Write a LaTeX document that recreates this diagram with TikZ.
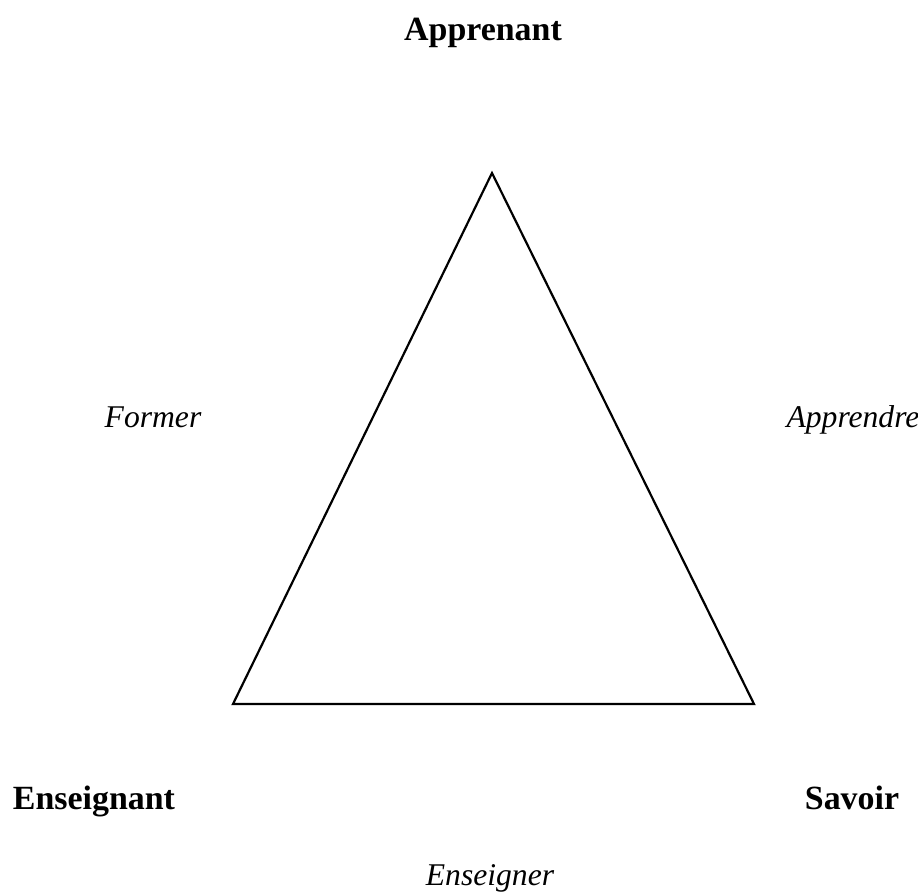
\documentclass[tikz,border=0pt]{standalone}
\usepackage{fontspec}
\setmainfont{Liberation Serif}
\usepackage{tikz}

\begin{document}
\begin{tikzpicture}[x=0.02cm,y=-0.02cm,
  pole/.style={anchor=base,inner sep=0pt,font=\fontsize{19.3}{23}\selectfont\bfseries},
  action/.style={anchor=base,inner sep=0pt,font=\fontsize{18}{21}\selectfont\itshape}]
\useasboundingbox (0,0) rectangle (918,893);
\coordinate (A) at (492,173);
\coordinate (E) at (233,704);
\coordinate (S) at (754,704);
\draw[line width=1.25pt,line join=miter] (A)--(S)--(E)--cycle;
\node[pole] (apprenant) at (483,40) {Apprenant};
\node[pole] (enseignant) at (94,809) {Enseignant};
\node[pole] (savoir) at (852,809) {Savoir};
\node[action] (former) at (153,427) {Former};
\node[action] (apprendre) at (853,427) {Apprendre};
\node[action] (enseigner) at (490,885) {Enseigner};
\end{tikzpicture}
\end{document}
